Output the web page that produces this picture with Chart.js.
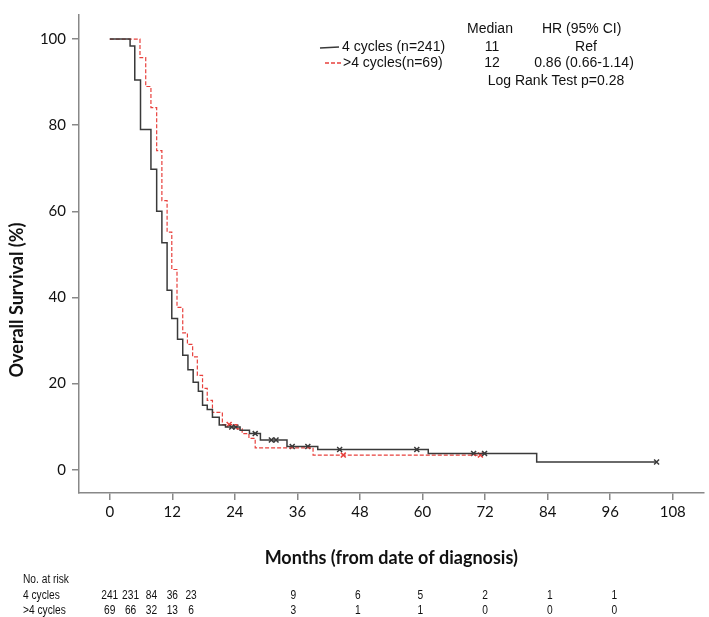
<!DOCTYPE html>
<html>
<head>
<meta charset="utf-8">
<script src="https://cdn.jsdelivr.net/npm/chart.js@4"></script>
<style>
  body { margin: 0; background: #fff; }
  #wrap { width: 709px; height: 617px; }
</style>
</head>
<body>
<div id="wrap"><canvas id="kmChart" width="709" height="617"></canvas></div>
<script>
// Kaplan-Meier step data (months, survival %)
const fourTimes = [0, 3.9, 4.8, 5.9, 7.9, 9.0, 10.0, 11.0, 11.9, 13.0, 14.0, 15.0, 16.0, 17.0, 17.8, 18.7, 19.7, 21.0, 22.2, 25.0, 26.8, 28.9, 34.0, 39.9, 61.1, 81.9, 105.0];
const fourSurv  = [100, 98.4, 90.5, 79.0, 69.8, 60.0, 52.7, 41.7, 35.1, 30.3, 26.6, 23.2, 20.3, 18.2, 15.0, 14.0, 12.2, 10.4, 9.9, 9.2, 8.4, 6.9, 5.4, 4.7, 3.8, 1.8, 1.8];
const fourCensT = [23.4, 24.2, 27.9, 31.0, 31.9, 35.0, 38.0, 44.1, 58.9, 69.8, 71.9, 104.9];
const fourCensS = [9.9, 9.9, 8.4, 6.9, 6.9, 5.4, 5.4, 4.7, 4.7, 3.8, 3.8, 1.8];

const moreTimes = [0, 5.8, 6.9, 7.9, 9.0, 10.0, 11.0, 11.9, 12.9, 14.0, 14.9, 15.9, 16.8, 17.8, 18.7, 19.7, 21.6, 24.4, 25.4, 26.7, 27.9, 39.0, 71.1];
const moreSurv  = [100, 95.7, 89.0, 84.1, 74.1, 62.5, 55.2, 46.5, 37.7, 31.8, 29.1, 26.2, 21.9, 18.9, 16.1, 13.3, 10.5, 9.5, 8.4, 7.3, 5.1, 3.4, 3.4];
const moreCensT = [22.9, 44.8, 71.1];
const moreCensS = [10.5, 3.4, 3.4];

const xTicks = [0, 12, 24, 36, 48, 60, 72, 84, 96, 108];
const yTicks = [0, 20, 40, 60, 80, 100];

// number at risk table
const riskMonths = [0, 4, 8, 12, 15.6, 35.2, 47.6, 59.6, 72, 84.4, 96.8];
const riskFour = [241, 231, 84, 36, 23, 9, 6, 5, 2, 1, 1];
const riskMore = [69, 66, 32, 13, 6, 3, 1, 1, 0, 0, 0];

const toPoints = (xs, ys) => xs.map((x, i) => ({ x: x, y: ys[i] }));

const BLACK = '#3a3a3a';
const RED = '#e8403c';

// draws narrow text (the at-risk table uses a condensed face)
const narrowText = (ctx, txt, x, y, align) => {
    ctx.save();
    ctx.translate(x, y);
    ctx.scale(0.85, 1);
    ctx.textAlign = align;
    ctx.fillText(txt, 0, 0);
    ctx.restore();
};

const textPlugin = {
    id: 'kmText',
    afterDraw(chart) {
        const ctx = chart.ctx;
        const xs = chart.scales.x;
        ctx.save();
        ctx.fillStyle = '#111';

        // y axis title
        ctx.save();
        ctx.translate(17, 300);
        ctx.rotate(-Math.PI / 2);
        ctx.font = 'bold 18px Lato';
        ctx.textAlign = 'center';
        ctx.textBaseline = 'middle';
        ctx.fillText('Overall Survival (%)', 0, 0);
        ctx.restore();

        // legend / stats block
        ctx.font = '14px "Liberation Sans", Arial';
        ctx.textBaseline = 'middle';
        ctx.textAlign = 'left';
        ctx.fillText('Median', 467, 29);
        ctx.fillText('HR (95% CI)', 542, 29);
        ctx.fillText('4 cycles (n=241)', 342, 47);
        ctx.fillText('>4 cycles(n=69)', 343, 63);
        ctx.textAlign = 'center';
        ctx.fillText('11', 492, 47);
        ctx.fillText('Ref', 586, 47);
        ctx.fillText('12', 492, 63);
        ctx.fillText('0.86 (0.66-1.14)', 584, 63);
        ctx.fillText('Log Rank Test p=0.28', 556, 81);

        ctx.lineWidth = 1.5;
        ctx.strokeStyle = BLACK;
        ctx.beginPath();
        ctx.moveTo(320, 48);
        ctx.lineTo(339, 47);
        ctx.stroke();
        ctx.strokeStyle = RED;
        ctx.setLineDash([4, 2]);
        ctx.beginPath();
        ctx.moveTo(325, 63);
        ctx.lineTo(341, 63);
        ctx.stroke();
        ctx.setLineDash([]);

        // number at risk
        ctx.font = '12px "Liberation Sans", Arial';
        narrowText(ctx, 'No. at risk', 23, 580, 'left');
        narrowText(ctx, '4 cycles', 23, 596, 'left');
        narrowText(ctx, '>4 cycles', 23, 611, 'left');
        riskMonths.forEach((m, i) => {
            const px = xs.getPixelForValue(m);
            narrowText(ctx, String(riskFour[i]), px, 596, 'center');
            narrowText(ctx, String(riskMore[i]), px, 611, 'center');
        });
        ctx.restore();
    }
};

const ctx = document.getElementById('kmChart').getContext('2d');
new Chart(ctx, {
    type: 'line',
    data: {
        datasets: [
            {
                label: '4 cycles (n=241)',
                data: toPoints(fourTimes, fourSurv),
                borderColor: BLACK,
                borderWidth: 1.5,
                stepped: 'before',
                pointRadius: 0,
                fill: false
            },
            {
                label: '>4 cycles(n=69)',
                data: toPoints(moreTimes, moreSurv),
                borderColor: RED,
                borderWidth: 1.2,
                borderDash: [4, 2],
                stepped: 'before',
                pointRadius: 0,
                fill: false
            },
            {
                label: '4 cycles censored',
                data: toPoints(fourCensT, fourCensS),
                showLine: false,
                pointStyle: 'crossRot',
                pointRadius: 3.5,
                pointBorderWidth: 1.5,
                borderColor: BLACK,
                backgroundColor: BLACK
            },
            {
                label: '>4 cycles censored',
                data: toPoints(moreCensT, moreCensS),
                showLine: false,
                pointStyle: 'crossRot',
                pointRadius: 3.5,
                pointBorderWidth: 1.5,
                borderColor: RED,
                backgroundColor: RED
            }
        ]
    },
    options: {
        responsive: false,
        animation: false,
        layout: { padding: { left: 0, right: 1, top: 0, bottom: 0 } },
        plugins: { legend: { display: false }, tooltip: { enabled: false } },
        scales: {
            x: {
                type: 'linear',
                min: -5.9,
                max: 113.9,
                afterFit: (s) => { s.height = 124; },
                afterBuildTicks: (s) => { s.ticks = xTicks.map(v => ({ value: v })); },
                grid: { drawOnChartArea: false, drawTicks: true, tickLength: 7, color: '#888', lineWidth: 1.5 },
                border: { display: true, color: '#888', width: 1.5 },
                ticks: { color: '#111', font: { family: 'Lato', size: 15 }, padding: 3, maxRotation: 0 },
                title: {
                    display: true,
                    text: 'Months (from date of diagnosis)',
                    color: '#111',
                    font: { family: 'Lato', size: 18, weight: 'bold' },
                    padding: { top: 0, bottom: 48 }
                }
            },
            y: {
                type: 'linear',
                min: -5.4,
                max: 105.6,
                afterFit: (s) => { s.width = 79; },
                afterBuildTicks: (s) => { s.ticks = yTicks.map(v => ({ value: v })); },
                grid: { drawOnChartArea: false, drawTicks: true, tickLength: 7, color: '#888', lineWidth: 1.5 },
                border: { display: true, color: '#888', width: 1.5 },
                ticks: { color: '#111', font: { family: 'Lato', size: 15 }, padding: 6 }
            }
        }
    },
    plugins: [textPlugin]
});
</script>
</body>
</html>
